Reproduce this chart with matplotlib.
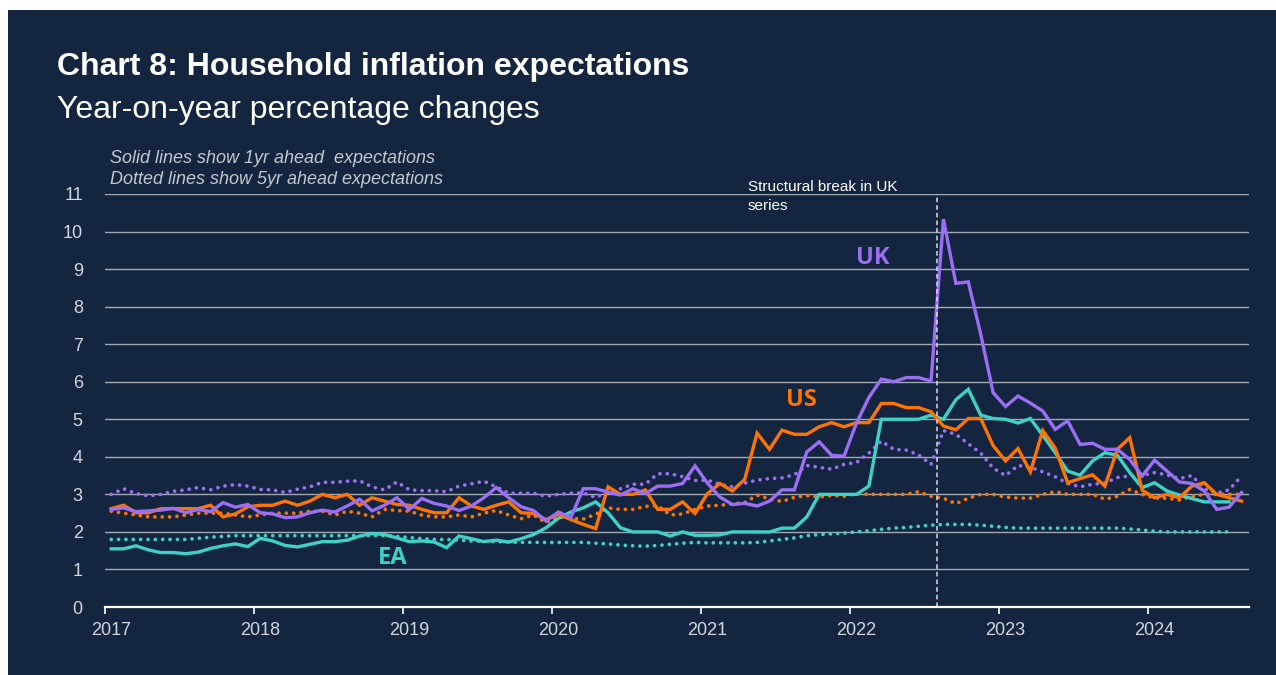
import numpy as np
import matplotlib.pyplot as plt
from matplotlib.patches import Rectangle
from matplotlib.transforms import ScaledTranslation

# --- Monthly data, Jan 2017 onwards (% y/y) ---
uk_1yr = [2.6, 2.64, 2.54, 2.56, 2.58, 2.63, 2.51, 2.6, 2.54, 2.78, 2.66, 2.73,
          2.51, 2.48, 2.38, 2.4, 2.51, 2.58, 2.53, 2.69, 2.87, 2.56, 2.71, 2.91,
          2.6, 2.89, 2.76, 2.69, 2.57, 2.69, 2.91, 3.18, 2.91, 2.67, 2.57, 2.29,
          2.53, 2.38, 3.15, 3.15, 3.06, 2.98, 3.15, 3.02, 3.22, 3.22, 3.29, 3.76,
          3.3, 2.93, 2.73, 2.76, 2.69, 2.82, 3.12, 3.12, 4.13, 4.4, 4.04, 4.02,
          4.9, 5.58, 6.07, 6.0, 6.11, 6.11, 6.02, 10.33, 8.62, 8.66, 7.27, 5.71,
          5.34, 5.62, 5.43, 5.22, 4.73, 4.96, 4.33, 4.36, 4.2, 4.2, 3.93, 3.49,
          3.91, 3.62, 3.33, 3.29, 3.09, 2.6, 2.66, 3.05]
us_1yr = [2.62, 2.71, 2.51, 2.51, 2.62, 2.62, 2.62, 2.62, 2.71, 2.4, 2.48, 2.67,
          2.71, 2.71, 2.82, 2.71, 2.82, 3.0, 2.91, 3.0, 2.71, 2.91, 2.82, 2.73,
          2.71, 2.6, 2.51, 2.51, 2.91, 2.69, 2.6, 2.71, 2.8, 2.51, 2.49, 2.33,
          2.47, 2.33, 2.2, 2.09, 3.2, 3.0, 3.0, 3.12, 2.6, 2.6, 2.8, 2.49,
          3.02, 3.29, 3.09, 3.4, 4.63, 4.2, 4.71, 4.6, 4.6, 4.8, 4.91, 4.8,
          4.91, 4.91, 5.42, 5.42, 5.31, 5.31, 5.2, 4.82, 4.72, 5.02, 5.02, 4.3,
          3.89, 4.22, 3.6, 4.7, 4.23, 3.31, 3.42, 3.52, 3.22, 4.2, 4.51, 3.11,
          2.91, 3.0, 2.91, 3.22, 3.31, 3.0, 2.91, 2.82]
ea_1yr = [1.55, 1.55, 1.63, 1.52, 1.45, 1.45, 1.42, 1.46, 1.56, 1.63, 1.68, 1.61,
          1.83, 1.76, 1.64, 1.6, 1.67, 1.74, 1.74, 1.78, 1.89, 1.96, 1.93, 1.84,
          1.74, 1.76, 1.73, 1.58, 1.89, 1.82, 1.74, 1.78, 1.73, 1.82, 1.93, 2.11,
          2.36, 2.53, 2.64, 2.8, 2.51, 2.11, 2.0, 2.0, 2.0, 1.89, 2.0, 1.91,
          1.91, 1.92, 2.0, 2.0, 2.0, 2.0, 2.1, 2.1, 2.4, 3.0, 3.0, 3.0,
          3.0, 3.22, 5.0, 5.0, 5.0, 5.0, 5.11, 5.0, 5.52, 5.8, 5.11, 5.02,
          5.0, 4.9, 5.02, 4.57, 4.11, 3.62, 3.51, 3.89, 4.11, 4.04, 3.58, 3.18,
          3.31, 3.09, 2.98, 2.89, 2.8, 2.8, 2.8]

uk_5yr = [3.0, 3.15, 3.02, 2.96, 3.0, 3.08, 3.12, 3.18, 3.12, 3.22, 3.26, 3.22,
          3.13, 3.12, 3.05, 3.14, 3.2, 3.32, 3.32, 3.35, 3.36, 3.2, 3.12, 3.33,
          3.12, 3.1, 3.1, 3.07, 3.22, 3.28, 3.35, 3.2, 3.03, 3.03, 3.03, 2.95,
          3.0, 3.03, 3.04, 2.92, 3.06, 3.15, 3.27, 3.27, 3.55, 3.55, 3.47, 3.37,
          3.38, 3.27, 3.2, 3.3, 3.38, 3.42, 3.44, 3.52, 3.77, 3.72, 3.67, 3.8,
          3.85, 4.1, 4.42, 4.2, 4.18, 4.05, 3.8, 4.7, 4.6, 4.35, 4.1, 3.7,
          3.5, 3.77, 3.72, 3.6, 3.47, 3.29, 3.2, 3.27, 3.3, 3.45, 3.49, 3.5,
          3.58, 3.52, 3.42, 3.5, 3.15, 3.03, 3.12, 3.49]
us_5yr = [2.55, 2.5, 2.45, 2.4, 2.4, 2.4, 2.45, 2.5, 2.5, 2.5, 2.45, 2.4,
          2.45, 2.5, 2.5, 2.5, 2.55, 2.55, 2.45, 2.55, 2.5, 2.4, 2.6, 2.57,
          2.55, 2.45, 2.4, 2.4, 2.45, 2.4, 2.5, 2.57, 2.45, 2.35, 2.45, 2.25,
          2.4, 2.36, 2.34, 2.47, 2.64, 2.6, 2.6, 2.68, 2.7, 2.45, 2.48, 2.6,
          2.69, 2.71, 2.75, 2.78, 2.98, 2.88, 2.81, 2.92, 2.97, 2.93, 2.97, 2.95,
          3.02, 3.0, 3.0, 3.0, 3.0, 3.07, 2.95, 2.9, 2.75, 2.9, 3.0, 3.0,
          2.93, 2.9, 2.9, 3.0, 3.07, 3.0, 3.0, 3.0, 2.87, 2.95, 3.13, 3.0,
          2.9, 2.9, 2.85, 2.95, 3.0, 3.0, 3.0, 3.0]
ea_5yr = [1.8, 1.8, 1.8, 1.8, 1.8, 1.8, 1.8, 1.83, 1.86, 1.88, 1.9, 1.9,
          1.9, 1.9, 1.9, 1.9, 1.9, 1.9, 1.9, 1.9, 1.9, 1.9, 1.9, 1.88,
          1.85, 1.82, 1.8, 1.8, 1.78, 1.76, 1.75, 1.74, 1.73, 1.72, 1.72, 1.72,
          1.72, 1.72, 1.72, 1.7, 1.68, 1.65, 1.63, 1.62, 1.64, 1.67, 1.7, 1.72,
          1.71, 1.71, 1.71, 1.71, 1.72, 1.76, 1.8, 1.84, 1.9, 1.93, 1.95, 1.97,
          2.0, 2.03, 2.07, 2.1, 2.12, 2.15, 2.18, 2.2, 2.2, 2.2, 2.18, 2.15,
          2.12, 2.1, 2.1, 2.1, 2.1, 2.1, 2.1, 2.1, 2.1, 2.1, 2.08, 2.05,
          2.02, 2.0, 2.0, 2.0, 2.0, 2.0, 2.0]

years = list(range(2017, 2025))
yticks = list(range(0, 12))
break_date = 2022 + 7 / 12  # Aug 2022

NAVY = '#14263f'
UK_C = '#9b6ef5'
US_C = '#ff7300'
EA_C = '#3cd2c8'
GRID_C = '#a3a9b3'
TXT_C = '#d2d6dc'

plt.rcParams['font.family'] = ['Liberation Sans', 'DejaVu Sans']

fig = plt.figure(figsize=(12.76, 6.75), dpi=100, facecolor='white')
fig.patches.append(Rectangle((8 / 1276, 0), 1, 1 - 10 / 675, transform=fig.transFigure,
                             facecolor=NAVY, edgecolor='none', zorder=-10))

ax = fig.add_axes([105 / 1276, 1 - 607 / 675, (1249 - 105) / 1276, (607 - 194) / 675])
ax.set_facecolor(NAVY)
ax.set_zorder(5)


def month_x(vals):
    # mid-month positions in fractional years
    return 2017 + (np.arange(len(vals)) + 0.5) / 12


dot = dict(lw=2.7, linestyle=(0, (0.01, 1.95)), dash_capstyle='round')
ax.plot(month_x(ea_5yr), ea_5yr, color=EA_C, **dot)
ax.plot(month_x(us_5yr), us_5yr, color=US_C, **dot)
ax.plot(month_x(uk_5yr), uk_5yr, color=UK_C, **dot)

ax.plot(month_x(ea_1yr), ea_1yr, color=EA_C, lw=2.4, solid_joinstyle='miter')
ax.plot(month_x(us_1yr), us_1yr, color=US_C, lw=2.4, solid_joinstyle='miter')
ax.plot(month_x(uk_1yr), uk_1yr, color=UK_C, lw=2.4, solid_joinstyle='miter')

ax.axvline(break_date, ymin=0, ymax=1, color='#d8dce2', lw=1.1, linestyle=(0, (3, 2)))

ax.set_xlim(2017, 2024.675)
ax.set_ylim(0, 11)
ax.set_yticks(yticks)
ax.set_xticks(years)
ax.set_xticklabels([str(y) for y in years])
ax.grid(axis='y', color=GRID_C, lw=1.0)
ax.set_axisbelow(True)
for s in ['top', 'right', 'left']:
    ax.spines[s].set_visible(False)
ax.spines['bottom'].set_color('white')
ax.spines['bottom'].set_linewidth(1.6)
ax.spines['bottom'].set_zorder(5)
ax.tick_params(axis='x', colors='white', length=5, width=1.2, direction='out',
               labelcolor=TXT_C, labelsize=13, pad=6)
ax.tick_params(axis='y', length=0, labelcolor=TXT_C, labelsize=13, pad=16)
offset = ScaledTranslation(6 / 100, 0, fig.dpi_scale_trans)
for lbl in ax.get_xticklabels():
    lbl.set_transform(lbl.get_transform() + offset)

# series labels
lab = dict(fontsize=17, fontweight='bold', family=['Open Sans', 'DejaVu Sans'],
           ha='center', va='center')
ax.text(2022.15, 9.3, 'UK', color=UK_C, **lab)
ax.text(2021.67, 5.5, 'US', color=US_C, **lab)
ax.text(2018.93, 1.3, 'EA', color=EA_C, **lab)

ax.text(2021.312, 11.36, 'Structural break in UK\nseries', color='white', fontsize=11,
        ha='left', va='top', linespacing=1.4)

fig.text(57 / 1276, 1 - 75 / 675, 'Chart 8: Household inflation expectations',
         color='white', fontsize=23, fontweight='bold', ha='left', va='baseline')
fig.text(57 / 1276, 1 - 118 / 675, 'Year-on-year percentage changes',
         color='white', fontsize=23, ha='left', va='baseline')
fig.text(110 / 1276, 1 - 163 / 675, 'Solid lines show 1yr ahead  expectations',
         color='#c3c7ce', fontsize=13, style='italic', ha='left', va='baseline')
fig.text(110 / 1276, 1 - 184 / 675, 'Dotted lines show 5yr ahead expectations',
         color='#c3c7ce', fontsize=13, style='italic', ha='left', va='baseline')

fig.savefig('out.png', dpi=100, facecolor=fig.get_facecolor())
